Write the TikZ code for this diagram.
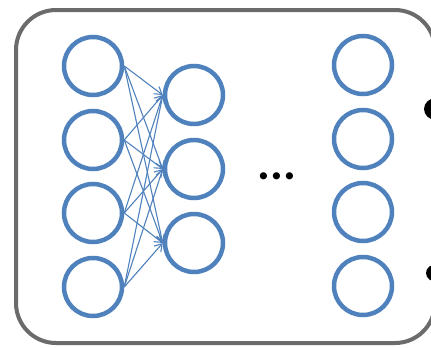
\documentclass[tikz,border=0pt]{standalone}
\usepackage{fontspec}
\newfontfamily\dotsfont{Carlito}
\usetikzlibrary{arrows.meta}
\definecolor{nblue}{HTML}{4F81BD}
\definecolor{fgray}{HTML}{6B6B6B}
\begin{document}
\begin{tikzpicture}[x=1pt,y=-1pt,
  neuron/.style={circle,draw=nblue,line width=4.5pt,minimum size=58pt,inner sep=0pt},
  conn/.style={draw=nblue,line width=1.1pt,-{Straight Barb[length=7pt,width=9pt]}},
  frame/.style={draw=fgray,line width=4pt,rounded corners=40pt}]
\useasboundingbox (0,0) rectangle (431,348);
\begin{scope}
\clip (0,0) rectangle (431,348);
\draw[frame] (16,10) rectangle (435,343);
\fill[black] (436,109) ellipse [x radius=12pt, y radius=11pt];
\fill[black] (437,273) ellipse [x radius=11pt, y radius=9pt];
\end{scope}
\foreach \i/\y in {1/66,2/140,3/213,4/287}{
  \node[neuron] (l\i) at (93,\y) {};
  \node[neuron] (r\i) at (363,\y-1) {};
}
\foreach \j/\y in {1/95,2/169,3/243}{
  \node[neuron] (m\j) at (194,\y) {};
}
\foreach \i in {1,...,4}{
  \foreach \j in {1,2,3}{
    \draw[conn] (l\i.east) -- (m\j.west);
  }
}
\node[font=\dotsfont\bfseries\fontsize{48}{50}\selectfont,anchor=base] (dots) at (277,179) {...};
\end{tikzpicture}
\end{document}
